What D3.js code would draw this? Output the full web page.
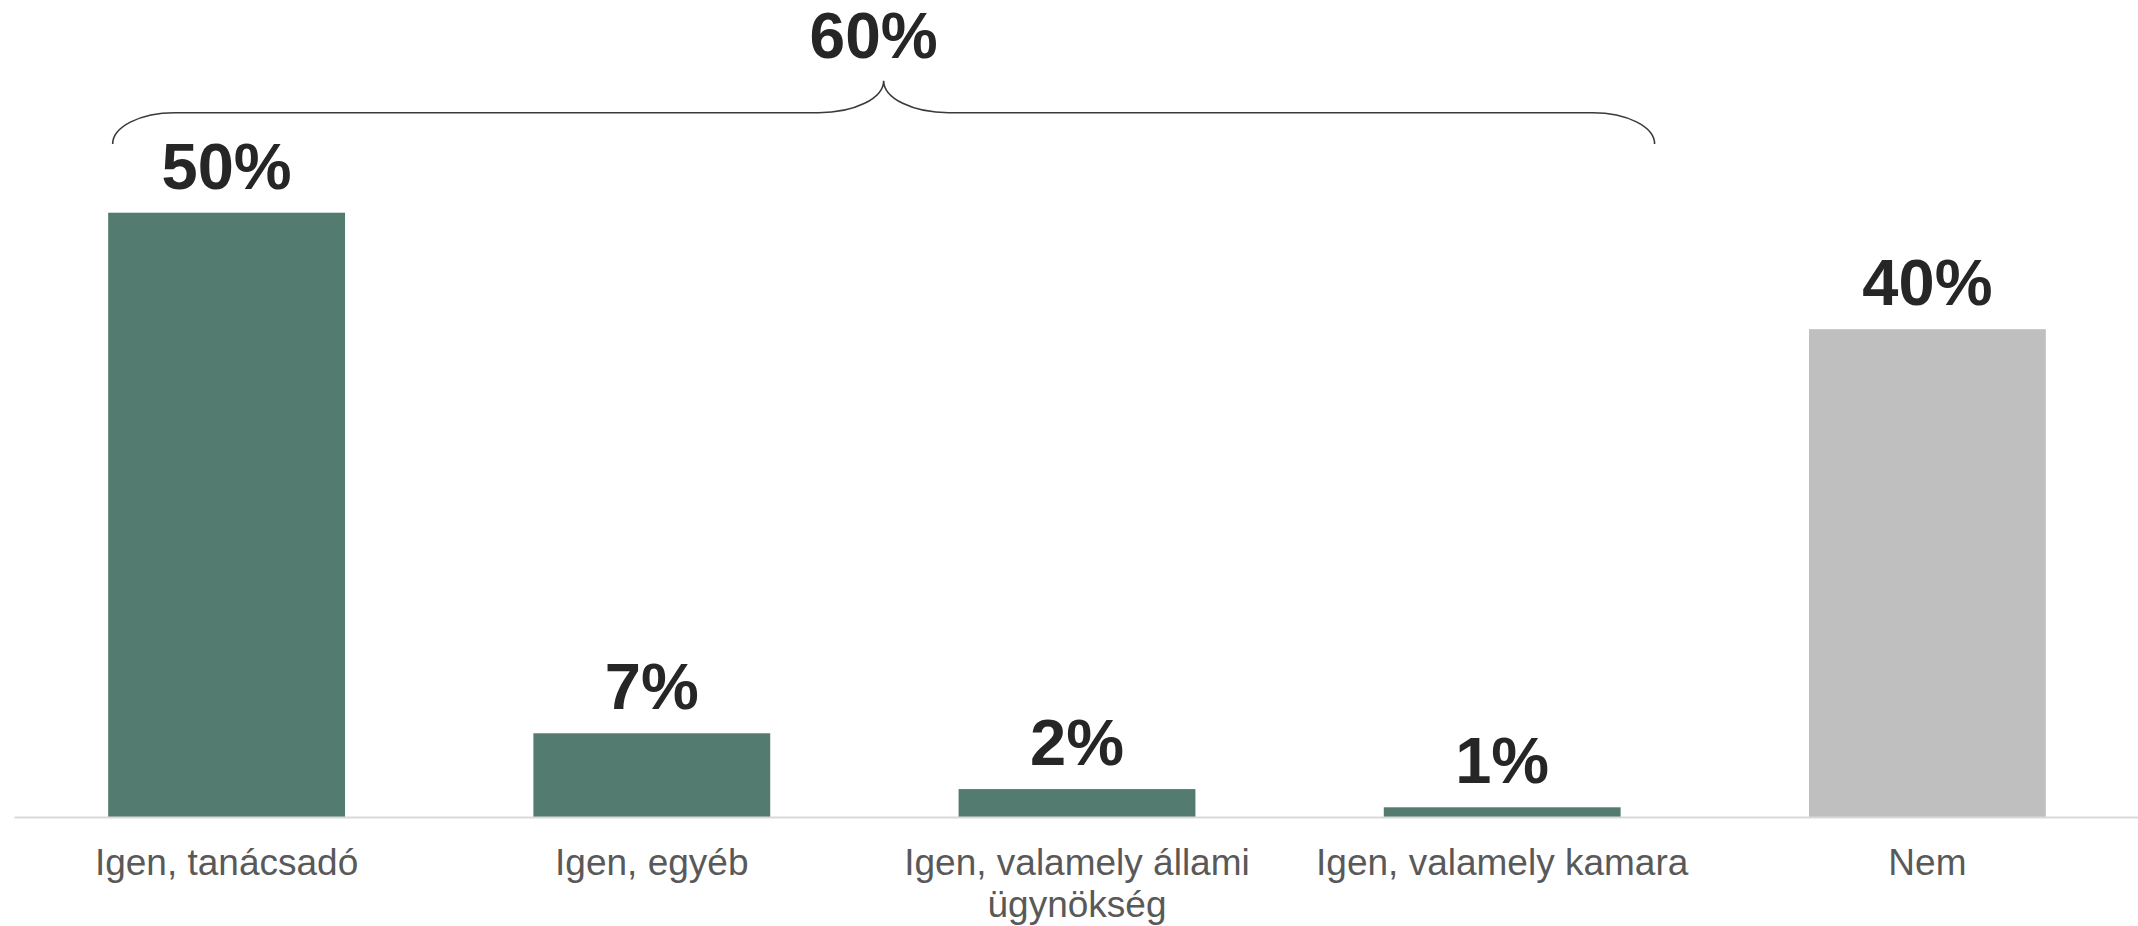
<!DOCTYPE html>
<html>
<head>
<meta charset="utf-8">
<script src="https://cdn.jsdelivr.net/npm/d3@7"></script>
<style>
  html, body { margin: 0; padding: 0; background: #ffffff; }
  svg { display: block; }
</style>
</head>
<body>
<svg id="chart" width="2138" height="926"></svg>
<script>
// ---- data ----
const categories = ["Igen, tanácsadó", "Igen, egyéb", "Igen, valamely állami ügynökség", "Igen, valamely kamara", "Nem"];
const values = [49.8, 6.9, 2.3, 0.8, 40.2];
const groups = ["igen", "igen", "igen", "igen", "nem"];
const bracketCategories = ["Igen, tanácsadó", "Igen, egyéb", "Igen, valamely állami ügynökség", "Igen, valamely kamara"];

// ---- layout ----
const W = 2138, H = 926;
const baseY = 817;
const svg = d3.select("#chart");

const x = d3.scaleBand()
  .domain(categories)
  .range([14, 2140])
  .paddingInner(0.443)
  .paddingOuter(0.2215);

const y = d3.scaleLinear()
  .domain([0, 49.8])
  .range([baseY, 212.7]);

const color = d3.scaleOrdinal().domain(["igen", "nem"]).range(["#537b6f", "#bfbfbf"]);
const fmt = v => Math.round(v) + "%";

// bars
svg.append("g").selectAll("rect")
  .data(categories)
  .join("rect")
  .attr("x", d => x(d))
  .attr("width", x.bandwidth())
  .attr("y", (d, i) => y(values[i]))
  .attr("height", (d, i) => y(0) - y(values[i]))
  .attr("fill", (d, i) => color(groups[i]));

// x axis baseline
const axis = svg.append("g")
  .attr("transform", `translate(0,${baseY})`)
  .call(d3.axisBottom(x).tickSize(0).tickPadding(0));
axis.select(".domain").attr("stroke", "#d9d9d9").attr("stroke-width", 2);
axis.selectAll(".tick text").remove();

// category labels with wrapping
const labelG = svg.append("g");
categories.forEach(cat => {
  const t = labelG.append("text")
    .attr("x", x(cat) + x.bandwidth() / 2)
    .attr("y", baseY + 58)
    .attr("text-anchor", "middle")
    .attr("font-family", "'Liberation Sans', Arial, sans-serif")
    .attr("font-size", 37)
    .attr("fill", "#595959");
  const words = cat.split(" ");
  const maxW = x.step() - 10;
  let line = [];
  let lineNo = 0;
  let tspan = t.append("tspan").attr("x", x(cat) + x.bandwidth() / 2).attr("dy", 0);
  words.forEach(w => {
    line.push(w);
    tspan.text(line.join(" "));
    if (tspan.node().getComputedTextLength() > maxW && line.length > 1) {
      line.pop();
      tspan.text(line.join(" "));
      line = [w];
      lineNo++;
      tspan = t.append("tspan").attr("x", x(cat) + x.bandwidth() / 2).attr("dy", 42).text(w);
    }
  });
});

// value labels
svg.append("g").selectAll("text")
  .data(categories)
  .join("text")
  .attr("x", d => x(d) + x.bandwidth() / 2)
  .attr("y", (d, i) => y(values[i]) - 24)
  .attr("text-anchor", "middle")
  .attr("font-family", "'Liberation Sans', Arial, sans-serif")
  .attr("font-weight", "bold")
  .attr("font-size", 65)
  .attr("fill", "#262626")
  .text((d, i) => fmt(values[i]));

// bracket
const bL = x(bracketCategories[0]) + 4.5;
const bR = x(bracketCategories[bracketCategories.length - 1]) + x.bandwidth() + 34;
const bMid = (bL + bR) / 2;
const yEnd = 144, yLine = 112.7, yTip = 80.7;
const rxE = 62, rxM = 65;
const k = 0.552;
const ryE = yEnd - yLine, ryM = yLine - yTip;
const p = d3.path();
p.moveTo(bL, yEnd);
p.bezierCurveTo(bL, yEnd - k * ryE, bL + rxE - k * rxE, yLine, bL + rxE, yLine);
p.lineTo(bMid - rxM, yLine);
p.bezierCurveTo(bMid - rxM + k * rxM, yLine, bMid, yTip + k * ryM, bMid, yTip);
p.bezierCurveTo(bMid, yTip + k * ryM, bMid + rxM - k * rxM, yLine, bMid + rxM, yLine);
p.lineTo(bR - rxE, yLine);
p.bezierCurveTo(bR - rxE + k * rxE, yLine, bR, yEnd - k * ryE, bR, yEnd);
svg.append("path")
  .attr("d", p.toString())
  .attr("fill", "none")
  .attr("stroke", "#3a3a3a")
  .attr("stroke-width", 1.6);

const total = d3.sum(bracketCategories.map(c => values[categories.indexOf(c)]));
svg.append("text")
  .attr("x", bMid - 10)
  .attr("y", 58)
  .attr("text-anchor", "middle")
  .attr("font-family", "'Liberation Sans', Arial, sans-serif")
  .attr("font-weight", "bold")
  .attr("font-size", 64)
  .attr("fill", "#262626")
  .text(fmt(total));
</script>
</body>
</html>
